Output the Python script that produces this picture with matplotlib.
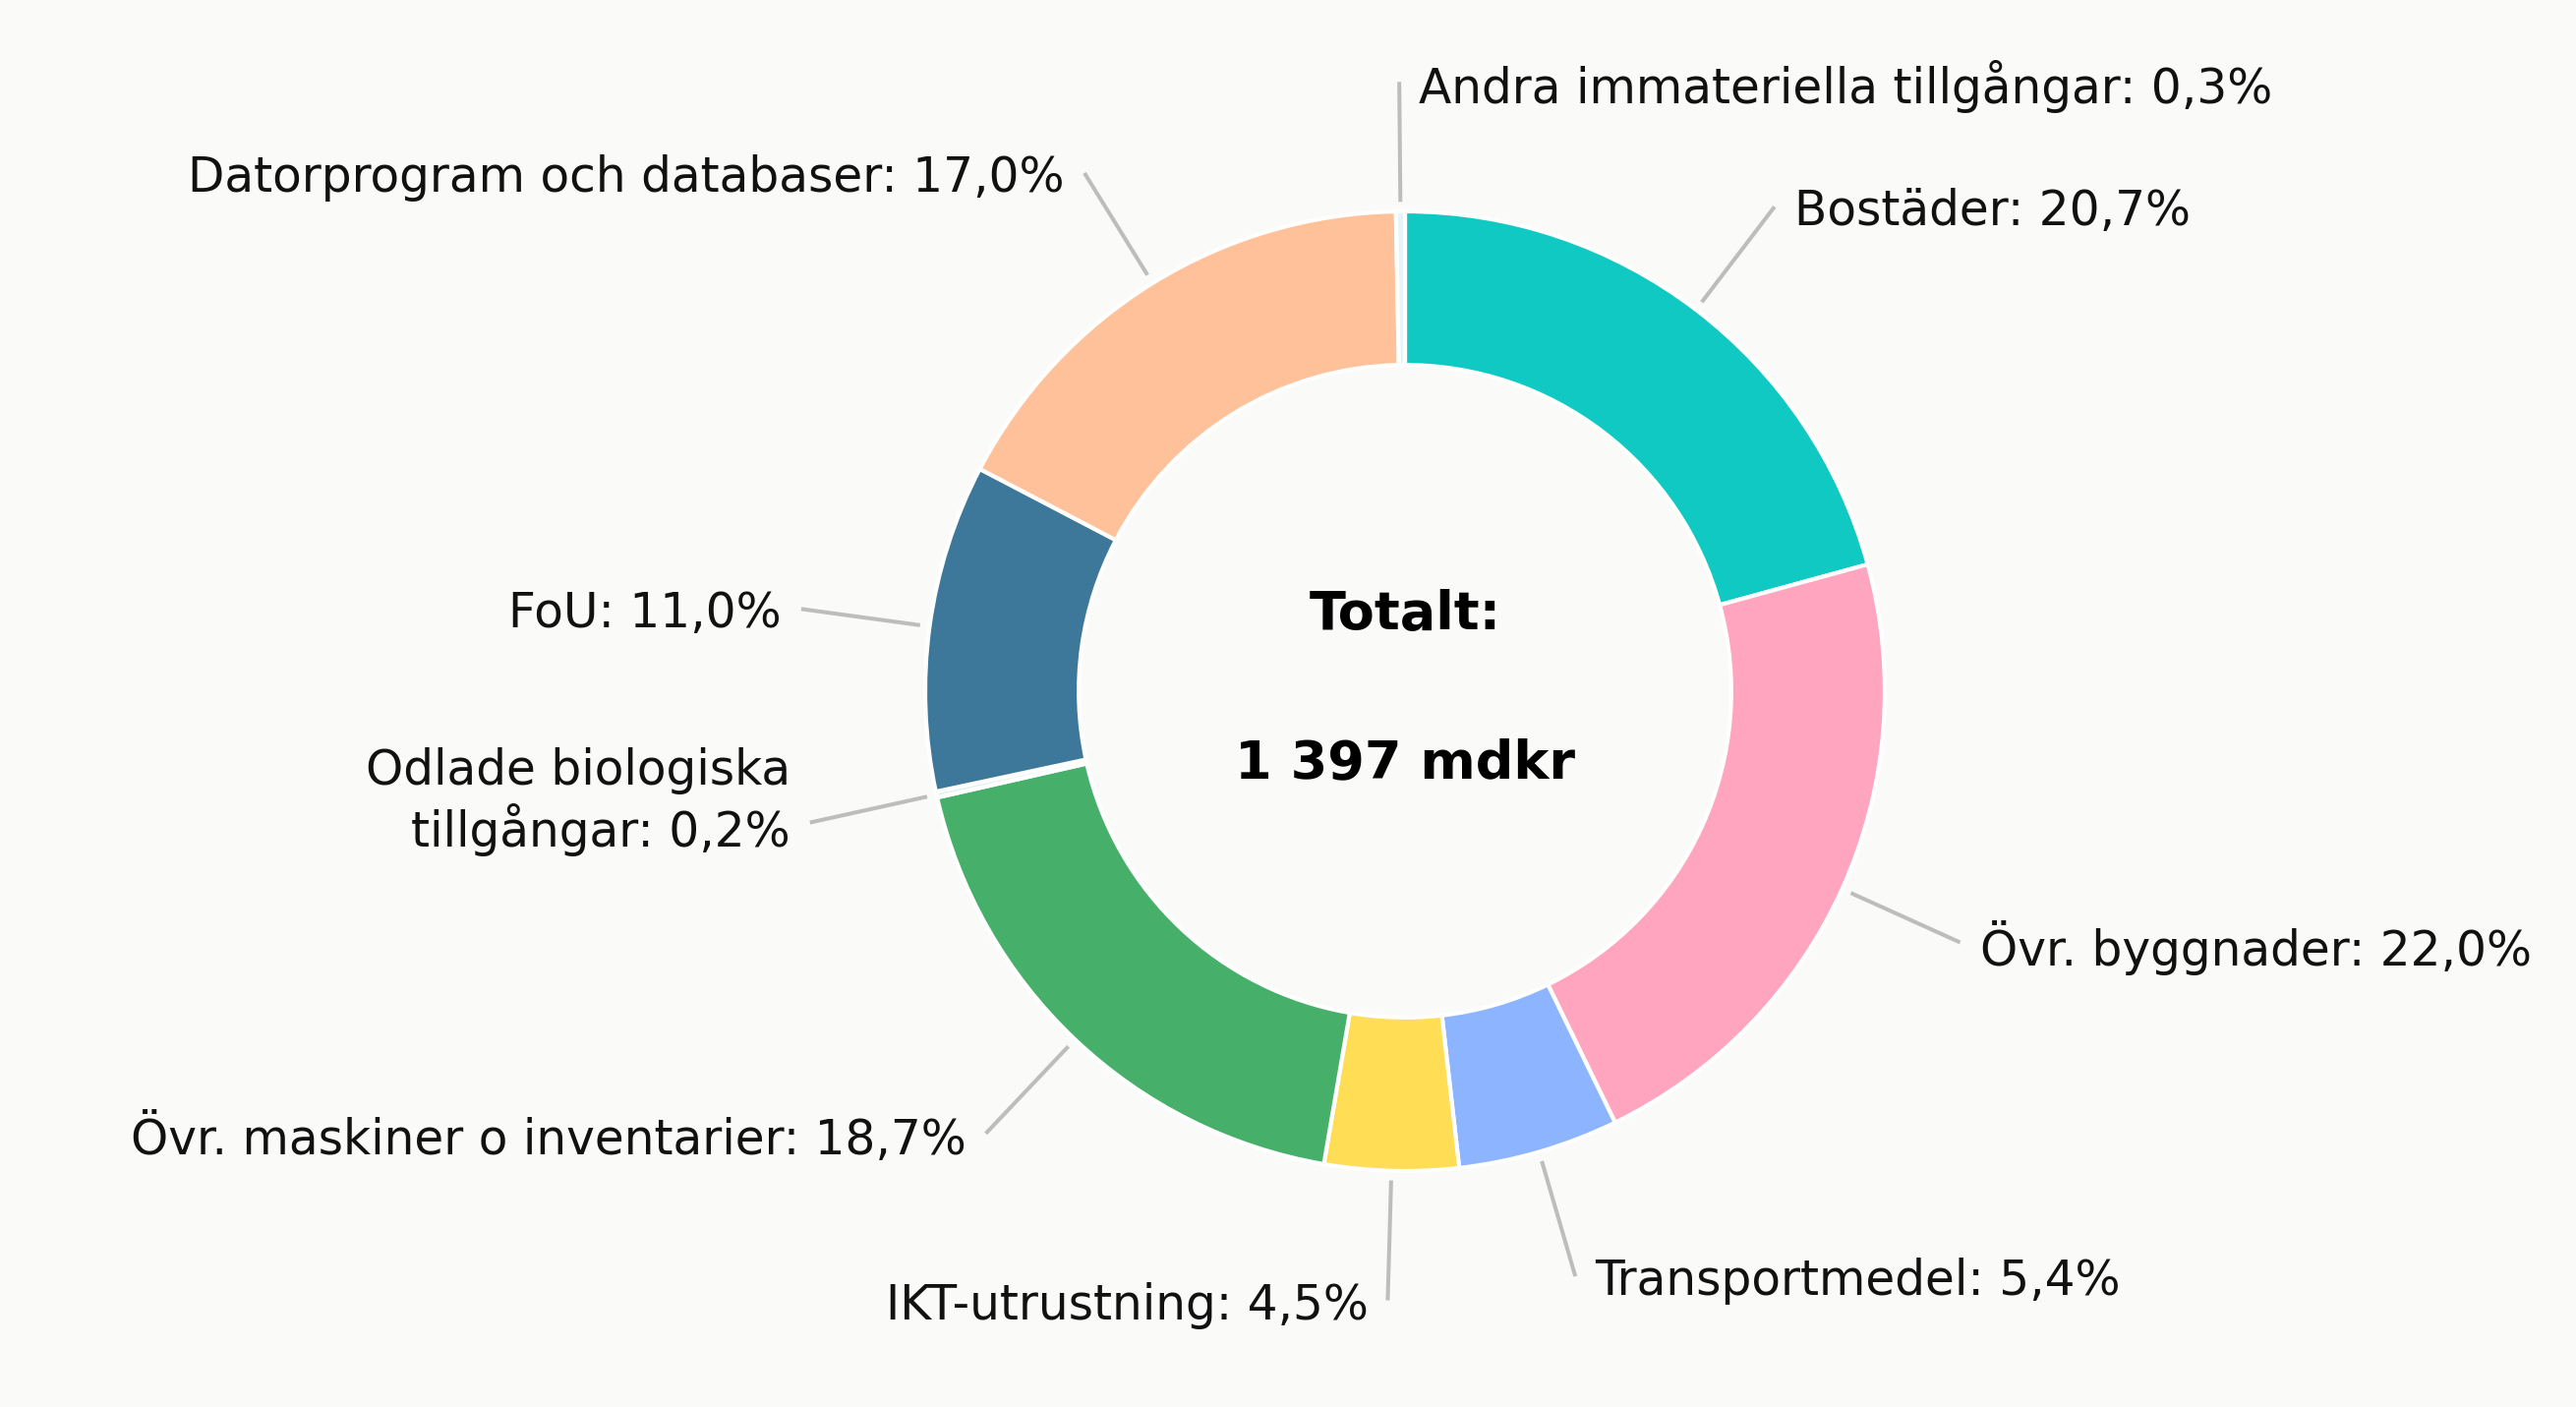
import numpy as np
import matplotlib.pyplot as plt

# andel av totala investeringar, medurs från klockan 12
kategorier = [
    "Bostäder", "Övr. byggnader", "Transportmedel", "IKT-utrustning",
    "Övr. maskiner o inventarier", "Odlade biologiska\ntillgångar",
    "FoU", "Datorprogram och databaser", "Andra immateriella tillgångar",
]
andelar = [20.7, 22.0, 5.4, 4.5, 18.7, 0.2, 11.0, 17.0, 0.3]
farger = ["#10C9C3", "#FFA5BF", "#8DB5FF", "#FFDD55", "#46AF6A",
          "#E4F2F0", "#3D7799", "#FFC19A", "#E8F4FA"]
totalt = "1 397 mdkr"

BG = "#FAFAF8"
W, H = 2620, 1431
cx, cy, R = 1429, H - 703, 488
FONT = ["DejaVu Sans"]
FS = 35

fig = plt.figure(figsize=(W / 100, H / 100), dpi=100, facecolor=BG)
ax = fig.add_axes([0, 0, 1, 1])
ax.set_facecolor(BG)

wedges, _ = ax.pie(
    andelar, colors=farger, startangle=90, counterclock=False,
    center=(cx, cy), radius=R,
    wedgeprops=dict(width=R * 0.32, edgecolor="white", linewidth=3),
)
ax.set_xlim(0, W)
ax.set_ylim(0, H)
ax.axis("off")

# etiketter med ledarlinjer
for w, namn, v in zip(wedges, kategorier, andelar):
    theta = np.deg2rad((w.theta1 + w.theta2) / 2)
    dx, dy = np.cos(theta), np.sin(theta)
    x0, y0 = cx + 1.02 * R * dx, cy + 1.02 * R * dy
    x1, y1 = cx + 1.27 * R * dx, cy + 1.27 * R * dy
    ax.plot([x0, x1], [y0, y1], color="#BDBDBD", lw=2.9,
            solid_capstyle="butt", zorder=1)
    right = dx > -0.02
    pct = f"{v:.1f}".replace(".", ",")
    # flerradiga etiketter: sista raden ungefär i höjd med linjen
    extra = namn.count("\n") * (0.5 * FS * 1.2 * 100 / 72 - 3)
    ax.text(x1 + (20 if right else -20), y1 - 5 + extra, f"{namn}: {pct}%",
            ha="left" if right else "right", va="center",
            fontsize=FS, color="#111111", family=FONT, linespacing=1.2)

ax.text(cx, H - 625, "Totalt:", ha="center", va="center",
        fontsize=39, fontweight="bold", color="black", family=FONT)
ax.text(cx, H - 776, totalt, ha="center", va="center",
        fontsize=39, fontweight="bold", color="black", family=FONT)

fig.savefig("out.png", dpi=100, facecolor=BG)
